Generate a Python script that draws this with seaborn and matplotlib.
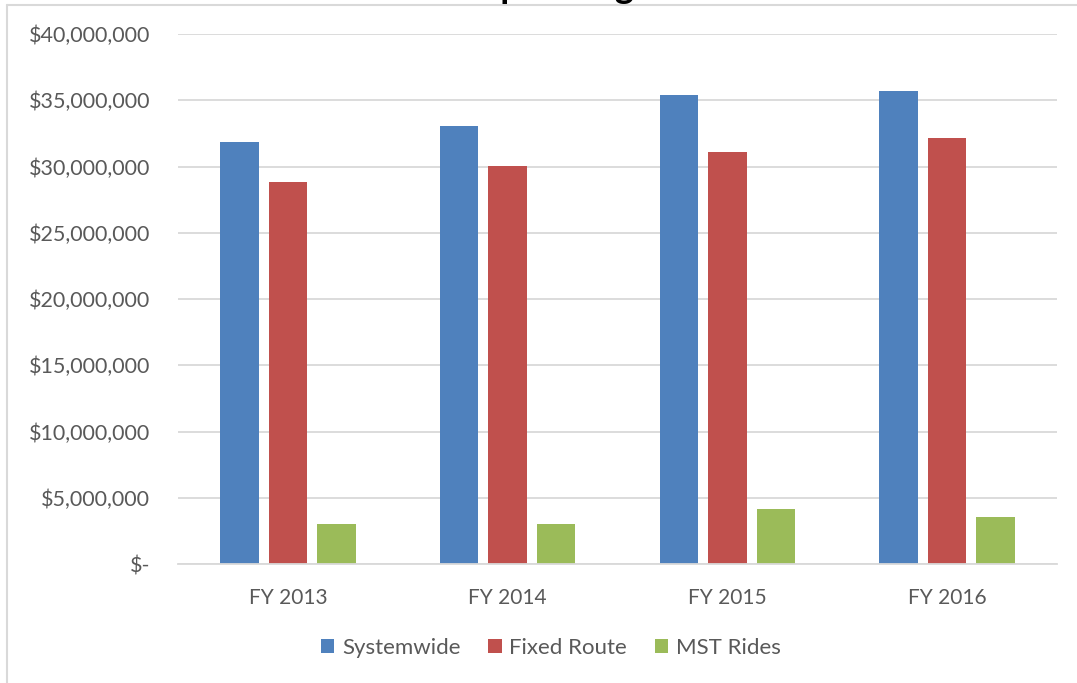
import matplotlib
matplotlib.use("Agg")
import matplotlib.pyplot as plt
from matplotlib.lines import Line2D
from matplotlib.ticker import FuncFormatter
import seaborn as sns
import pandas as pd

# Operating costs by fiscal year
years = ["FY 2013", "FY 2014", "FY 2015", "FY 2016"]
systemwide = [31_870_000, 33_080_000, 35_370_000, 35_700_000]
fixed_route = [28_800_000, 30_040_000, 31_120_000, 32_130_000]
mst_rides = [3_050_000, 3_000_000, 4_190_000, 3_530_000]
series_names = ["Systemwide", "Fixed Route", "MST Rides"]
colors = ["#4f81bd", "#c0504d", "#9bbb59"]

df = pd.DataFrame({
    "year": years * 3,
    "series": [s for s in series_names for _ in years],
    "value": systemwide + fixed_route + mst_rides,
})

sns.set_theme(style="white")
plt.rcParams["font.family"] = ["Lato", "DejaVu Sans"]
text_color = "#595959"
grid_color = "#d9d9d9"

fig = plt.figure(figsize=(10.77, 6.83), dpi=100)
ax = fig.add_axes([0.1653, 0.1742, 0.8161, 0.7760])

sns.barplot(data=df, x="year", y="value", hue="series", hue_order=series_names,
            palette=colors, width=0.661, gap=0.206, saturation=1,
            errorbar=None, ax=ax, legend=True, linewidth=0)

ax.set_ylim(0, 40_000_000)
ax.set_xlim(-0.5, len(years) - 0.5)
ax.set_yticks(range(0, 40_000_001, 5_000_000))


def dollars(v, _):
    return "$-" if v == 0 else f"${v:,.0f}"


ax.yaxis.set_major_formatter(FuncFormatter(dollars))
ax.yaxis.grid(True, color=grid_color, linewidth=1.3)
ax.set_axisbelow(True)
for side in ["left", "right", "top"]:
    ax.spines[side].set_visible(False)
ax.spines["bottom"].set_color(grid_color)
ax.spines["bottom"].set_linewidth(1.3)
ax.set_xlabel("")
ax.set_ylabel("")
ax.tick_params(axis="y", length=0, pad=20, labelsize=15.5, labelcolor=text_color)
ax.tick_params(axis="x", length=0, pad=17, labelsize=15, labelcolor=text_color)

handles, labels = ax.get_legend_handles_labels()
ax.legend(handles, labels, loc="center", bbox_to_anchor=(551 / 1077, 1 - 648 / 683),
          bbox_transform=fig.transFigure, ncol=3, frameon=False, fontsize=16,
          labelcolor=text_color, handlelength=0.6, handleheight=0.6,
          handletextpad=0.35, columnspacing=1.25)

# Title sitting above the frame edge
fig.text(471 / 1077, 1 + 1.5 / 683, "Operating Costs", ha="left", va="baseline",
         fontsize=26, fontweight="bold", color="#000000")

# Chart frame (left and top edges)
fig.add_artist(Line2D([6.5 / 1077, 6.5 / 1077], [0, 1 - 4.5 / 683],
                      transform=fig.transFigure, color=grid_color, linewidth=1.5))
fig.add_artist(Line2D([6.5 / 1077, 1], [1 - 4.5 / 683, 1 - 4.5 / 683],
                      transform=fig.transFigure, color=grid_color, linewidth=1.5))

fig.savefig("out.png", dpi=100, facecolor="white")
